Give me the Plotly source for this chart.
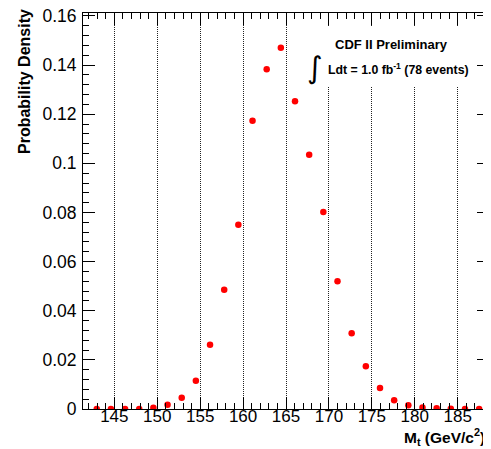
import plotly.graph_objects as go

# Data
mass = [142.95, 144.6, 146.25, 147.9, 149.55, 151.2, 152.85, 154.5, 156.15, 157.8,
        159.45, 161.1, 162.75, 164.4, 166.05, 167.7, 169.35, 171.0, 172.65, 174.3,
        175.95, 177.6, 179.25, 180.9, 182.55, 184.2, 185.85, 187.5]
density = [0.0, 0.0, 0.0, 0.0, 0.0005, 0.0017, 0.0046, 0.0115, 0.0262, 0.0485,
           0.0750, 0.1173, 0.1383, 0.1471, 0.1253, 0.1035, 0.0802, 0.0520, 0.0308, 0.0174,
           0.0085, 0.0036, 0.0015, 0.0006, 0.0003, 0.0001, 0.0, 0.0]
x_ticks = [145, 150, 155, 160, 165, 170, 175, 180, 185]
y_ticks = [0, 0.02, 0.04, 0.06, 0.08, 0.10, 0.12, 0.14, 0.16]
y_labels = ["0", "0.02", "0.04", "0.06", "0.08", "0.1", "0.12", "0.14", "0.16"]

FONT = "Liberation Sans, Arial, Helvetica, sans-serif"

# plot area in window pixels: x 83..489, y 13..409 (page body adds an 8px offset)
PL, PR, PT, PB = 83, 489, 13, 409
PW, PH = PR - PL, PB - PT


def px(X):
    return (X - PL) / PW


def py(Y):
    return (PB - Y) / PH


fig = go.Figure()
fig.add_trace(go.Scatter(
    x=mass, y=density, mode="markers",
    marker=dict(color="#ff0000", size=6.5, line=dict(width=0)),
    showlegend=False,
))

fig.update_layout(
    width=483, height=441,
    margin=dict(l=PL - 8, r=2, t=PT - 8, b=441 - (PB - 8), pad=0, autoexpand=False),
    plot_bgcolor="white", paper_bgcolor="white",
    font=dict(family=FONT, size=17, color="black"),
    xaxis=dict(
        range=[141.35, 188.65], tickvals=x_ticks, ticktext=[str(v) for v in x_ticks],
        ticks="inside", ticklen=12, tickwidth=1, tickcolor="black",
        showline=True, linecolor="black", linewidth=1, mirror="allticks",
        showgrid=True, gridcolor="#222222", gridwidth=1, griddash="1px,1px",
        zeroline=False, ticklabelstandoff=-8, automargin=False,
        ticklabeloverflow="allow",
        minor=dict(dtick=1, tick0=145, ticks="inside", ticklen=6, tickcolor="black", showgrid=False),
        tickfont=dict(family=FONT, size=17),
    ),
    yaxis=dict(
        range=[0, 0.1612], tickvals=y_ticks, ticktext=y_labels,
        ticks="inside", ticklen=12, tickwidth=1, tickcolor="black",
        showline=True, linecolor="black", linewidth=1, mirror="allticks",
        showgrid=False, zeroline=False, ticklabelstandoff=2, automargin=False,
        ticklabeloverflow="allow",
        minor=dict(dtick=0.004, tick0=0, ticks="inside", ticklen=6, tickcolor="black", showgrid=False),
        tickfont=dict(family=FONT, size=17.5),
    ),
)

# white box behind the label
fig.add_shape(type="rect", xref="paper", yref="paper",
              x0=px(305), x1=px(476), y0=py(87), y1=py(26),
              fillcolor="white", line=dict(width=0), layer="above")

fig.add_annotation(xref="paper", yref="paper", x=px(391), y=py(44.5),
                   text="<b>CDF II Preliminary</b>", showarrow=False,
                   font=dict(family=FONT, size=13), xanchor="center", yanchor="middle")
fig.add_annotation(xref="paper", yref="paper", x=px(315), y=py(68),
                   text="∫", showarrow=False,
                   font=dict(family="DejaVu Sans", size=30), xanchor="center", yanchor="middle")
fig.add_annotation(xref="paper", yref="paper", x=px(326), y=py(69),
                   text="<b>Ldt = 1.0 fb<sup>-1</sup> (78 events)</b>", showarrow=False,
                   font=dict(family=FONT, size=12.3), xanchor="left", yanchor="middle")

# axis titles
fig.add_annotation(xref="paper", yref="paper", x=px(487), y=py(437),
                   text="<b>M<sub>t</sub> (GeV/c<sup>2</sup>)</b>", showarrow=False,
                   font=dict(family=FONT, size=15.5), xanchor="right", yanchor="middle")
fig.add_annotation(xref="paper", yref="paper", x=px(25), y=py(82),
                   text="<b>Probability Density</b>", showarrow=False, textangle=-90,
                   font=dict(family=FONT, size=16), xanchor="center", yanchor="middle")

fig.write_html("out.html")
